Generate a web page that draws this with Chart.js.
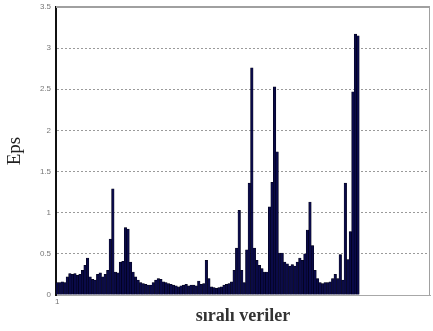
<!DOCTYPE html>
<html>
<head>
<meta charset="utf-8">
<script src="https://cdn.jsdelivr.net/npm/chart.js@4.4.0/dist/chart.umd.min.js"></script>
<style>
  html, body { margin: 0; padding: 0; background: #fff; }
  #wrap { width: 433px; height: 331px; position: relative; }
</style>
</head>
<body>
<div id="wrap"><canvas id="epsChart"></canvas></div>
<script>
// values, one per sample (sample 1 .. 120)
var eps = [
  0.15, 0.15, 0.16, 0.15, 0.22, 0.26, 0.25, 0.26, 0.24, 0.25,
  0.30, 0.36, 0.45, 0.22, 0.19, 0.18, 0.25, 0.27, 0.22, 0.25,
  0.30, 0.68, 1.29, 0.28, 0.27, 0.40, 0.41, 0.82, 0.80, 0.40,
  0.28, 0.22, 0.18, 0.15, 0.14, 0.13, 0.12, 0.12, 0.15, 0.18,
  0.20, 0.19, 0.16, 0.15, 0.14, 0.13, 0.12, 0.11, 0.10, 0.11,
  0.12, 0.13, 0.11, 0.12, 0.12, 0.11, 0.17, 0.13, 0.14, 0.42,
  0.20, 0.10, 0.09, 0.08, 0.09, 0.10, 0.12, 0.13, 0.14, 0.16,
  0.30, 0.57, 1.03, 0.30, 0.15, 0.55, 1.36, 2.76, 0.57, 0.42,
  0.36, 0.32, 0.28, 0.28, 1.07, 1.37, 2.53, 1.74, 0.51, 0.51,
  0.40, 0.38, 0.35, 0.37, 0.35, 0.40, 0.45, 0.42, 0.50, 0.79,
  1.13, 0.60, 0.30, 0.20, 0.15, 0.14, 0.15, 0.15, 0.16, 0.20,
  0.25, 0.20, 0.49, 0.18, 1.36, 0.43, 0.77, 2.47, 3.17, 3.15
];
var xTicks = [1];          // only the first sample is labelled
var xMax = 148;            // axis runs past the last sample
var yTicks = [0, 0.5, 1, 1.5, 2, 2.5, 3, 3.5];
var xTitle = 'sıralı veriler';
var yTitle = 'Eps';

var points = eps.map(function(v, i) { return { x: i + 1, y: v }; });

// gray frame on top / right, like the original plot box
var frame = {
  id: 'frame',
  afterDraw: function(chart) {
    var a = chart.chartArea, c = chart.ctx;
    c.save();
    c.strokeStyle = '#a0a0a0';
    c.lineWidth = 2;
    c.beginPath();
    c.moveTo(a.left, a.top); c.lineTo(a.right, a.top);
    c.stroke();
    c.lineWidth = 1;
    c.beginPath();
    c.moveTo(a.right - 0.5, a.top); c.lineTo(a.right - 0.5, a.bottom);
    c.stroke();
    c.restore();
  }
};

var ctx = document.getElementById('epsChart').getContext('2d');
var chart = new Chart(ctx, {
  type: 'bar',
  data: {
    datasets: [{
      label: yTitle,
      data: points,
      backgroundColor: '#0a0a48',
      borderColor: '#02020e',
      borderWidth: 0.5,
      barPercentage: 1,
      categoryPercentage: 1
    }]
  },
  options: {
    responsive: true,
    maintainAspectRatio: false,
    animation: false,
    layout: { padding: { top: 7, right: 3, left: 0, bottom: 0 } },
    plugins: { legend: { display: false }, tooltip: { enabled: false } },
    scales: {
      x: {
        type: 'linear',
        offset: false,
        min: 0.5,
        max: xMax + 0.5,
        grid: { display: false, drawTicks: false, tickLength: 0 },
        border: { color: '#a8a8a8', width: 1 },
        afterBuildTicks: function(s) { s.ticks = xTicks.map(function(v) { return { value: v }; }); },
        ticks: { color: '#777', font: { family: 'Liberation Sans', size: 8 }, padding: 2, maxRotation: 0,
                 callback: function(v) { return String(v); } },
        title: { display: true, text: xTitle, color: '#333',
                 font: { family: 'Liberation Serif', size: 18, weight: 'bold' }, padding: { top: 0, bottom: 4 } },
        afterFit: function(s) { s.height = 36; }
      },
      y: {
        min: 0,
        max: 3.5,
        afterBuildTicks: function(s) { s.ticks = yTicks.map(function(v) { return { value: v }; }); },
        grid: {
          color: function(c) { return (c.tick.value === 0 || c.tick.value === 3.5) ? 'rgba(0,0,0,0)' : '#9a9a9a'; },
          lineWidth: 1,
          drawTicks: false
        },
        border: { color: '#111', width: 2, dash: [2, 2] },
        ticks: { color: '#777', font: { family: 'Liberation Sans', size: 8 }, padding: 5,
                 callback: function(v) { return String(v); } },
        title: { display: true, text: yTitle, color: '#222',
                 font: { family: 'Liberation Serif', size: 19 }, padding: { top: 4, bottom: 0 } },
        afterFit: function(s) { s.width = 56; s.paddingTop = 0; s.paddingBottom = 0; }
      }
    }
  },
  plugins: [frame]
});
</script>
</body>
</html>
